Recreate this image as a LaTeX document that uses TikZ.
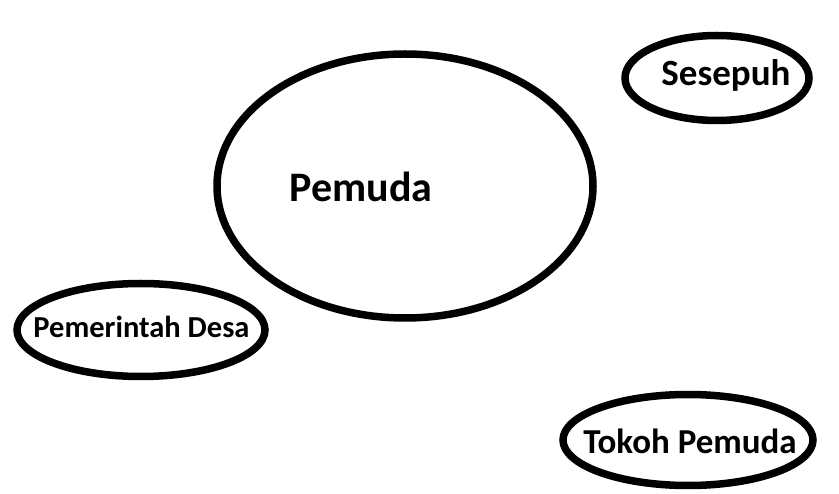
\documentclass[tikz,border=0pt]{standalone}
\usepackage{fontspec}
\setmainfont{Carlito}
\usetikzlibrary{shapes.geometric}

\begin{document}
\begin{tikzpicture}
  [x=1pt,y=-1pt,
   bubble/.style={ellipse,draw=black,line width=7.5pt,inner sep=0pt},
   word/.style={anchor=base,inner sep=0pt,font=\bfseries}]
  \useasboundingbox (0,0) rectangle (839,494);
  \node[bubble,minimum width=376pt,minimum height=264pt] (pemuda) at (405,186) {};
  \node[bubble,minimum width=184pt,minimum height=85pt] (sesepuh) at (717,78) {};
  \node[bubble,minimum width=248pt,minimum height=93pt] (desa) at (141,330) {};
  \node[bubble,minimum width=250pt,minimum height=91pt] (tokoh) at (688,440) {};

  \node[word,font=\bfseries\fontsize{42}{42}\selectfont] (tpemuda) at (361,202) {Pemuda};
  \node[word,font=\bfseries\fontsize{37}{37}\selectfont] (tsesepuh) at (726,86) {Sesepuh};
  \node[word,font=\bfseries\fontsize{30.5}{30.5}\selectfont] (tdesa) at (141.5,338) {Pemerintah Desa};
  \node[word,font=\bfseries\fontsize{35}{35}\selectfont] (ttokoh) at (690,454) {Tokoh Pemuda};
\end{tikzpicture}
\end{document}
